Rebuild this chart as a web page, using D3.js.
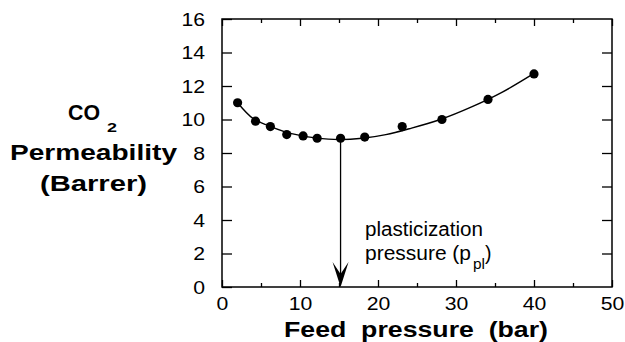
<!DOCTYPE html>
<html>
<head>
<meta charset="utf-8">
<script src="https://cdn.jsdelivr.net/npm/d3@7"></script>
<style>
  html, body { margin: 0; padding: 0; background: #fff; }
  svg { display: block; }
  text { font-family: "Liberation Sans", Arial, Helvetica, sans-serif; fill: #000; }
</style>
</head>
<body>
<svg id="chart" width="625" height="342"></svg>
<script>
// ---- data ----
const pressure = [2, 4.3, 6.2, 8.3, 10.4, 12.2, 15.2, 18.3, 23.1, 28.2, 34.1, 40.0];
const permeability = [11.0, 9.9, 9.58, 9.1, 9.02, 8.88, 8.88, 8.95, 9.58, 10.0, 11.2, 12.72];
const fitPressure = [2, 4, 6, 8, 10, 12, 15, 18, 21, 24, 28, 32, 36, 40];
const fitPermeability = [11.0, 10.05, 9.62, 9.28, 9.05, 8.9, 8.8, 8.88, 9.1, 9.45, 10.0, 10.75, 11.65, 12.75];
const xTicks = [0, 10, 20, 30, 40, 50];
const xMinorTicks = [5, 15, 25, 35, 45];
const yTicks = [0, 2, 4, 6, 8, 10, 12, 14, 16];
const plasticizationPressure = 15.2;

const svg = d3.select("#chart");
const L = 222, R = 612, T = 19, B = 287;
const x = d3.scaleLinear().domain([0, 50]).range([L, R]);
const y = d3.scaleLinear().domain([0, 16]).range([B, T]);

// frame
svg.append("rect").attr("x", L).attr("y", T).attr("width", R - L).attr("height", B - T)
  .attr("fill", "none").attr("stroke", "#000").attr("stroke-width", 1.5);

function styleAxis(g) {
  g.select(".domain").remove();
  g.selectAll("line").attr("stroke", "#000").attr("stroke-width", 1.3);
}

// bottom axis (labels)
const gx = svg.append("g").attr("transform", `translate(0,${B})`)
  .call(d3.axisBottom(x).tickValues(xTicks).tickSize(-7).tickPadding(10).tickFormat(d3.format("d")));
styleAxis(gx);
gx.selectAll("text").attr("font-size", 18).attr("dy", "0.71em")
  .attr("textLength", d => String(d).length * 11.8).attr("lengthAdjust", "spacingAndGlyphs");
svg.append("g").attr("transform", `translate(0,${B})`)
  .call(d3.axisBottom(x).tickValues(xMinorTicks).tickSize(-4).tickFormat(""))
  .call(styleAxis);
// top axis
svg.append("g").attr("transform", `translate(0,${T})`)
  .call(d3.axisTop(x).tickValues(xTicks).tickSize(-7).tickFormat("")).call(styleAxis);
svg.append("g").attr("transform", `translate(0,${T})`)
  .call(d3.axisTop(x).tickValues(xMinorTicks).tickSize(-4).tickFormat("")).call(styleAxis);

// left axis
const gy = svg.append("g").attr("transform", `translate(${L},0)`)
  .call(d3.axisLeft(y).tickValues(yTicks).tickSize(-10).tickPadding(17).tickFormat(d3.format("d")));
styleAxis(gy);
gy.selectAll("text").attr("font-size", 18).attr("dy", "0.36em")
  .attr("textLength", d => String(d).length * 11.8).attr("lengthAdjust", "spacingAndGlyphs");
// right axis
svg.append("g").attr("transform", `translate(${R},0)`)
  .call(d3.axisRight(y).tickValues(yTicks.slice(1, -1)).tickSize(-10).tickFormat("")).call(styleAxis);

// fit curve
const fit = fitPressure.map((p, i) => [p, fitPermeability[i]]);
svg.append("path").datum(fit)
  .attr("d", d3.line().x(d => x(d[0])).y(d => y(d[1])).curve(d3.curveCatmullRom))
  .attr("fill", "none").attr("stroke", "#000").attr("stroke-width", 1.4);

// arrow
const ax = x(plasticizationPressure);
const iMin = pressure.indexOf(plasticizationPressure);
svg.append("line").attr("x1", ax).attr("x2", ax)
  .attr("y1", y(permeability[iMin])).attr("y2", B - 6)
  .attr("stroke", "#000").attr("stroke-width", 1.3);
svg.append("path")
  .attr("d", `M${ax},${B} L${ax - 8},${B - 25} L${ax},${B - 13} L${ax + 8},${B - 25} Z`)
  .attr("fill", "#000");

// points
svg.append("g").selectAll("circle").data(pressure).join("circle")
  .attr("cx", d => x(d)).attr("cy", (d, i) => y(permeability[i])).attr("r", 4.6)
  .attr("fill", "#000");

// annotation
svg.append("text").attr("x", 365).attr("y", 236).attr("font-size", 19.5)
  .attr("textLength", 118).attr("lengthAdjust", "spacingAndGlyphs").text("plasticization");
svg.append("text").attr("x", 365).attr("y", 260).attr("font-size", 19.5)
  .attr("textLength", 106).attr("lengthAdjust", "spacingAndGlyphs").text("pressure (p");
svg.append("text").attr("x", 473).attr("y", 269).attr("font-size", 14)
  .attr("textLength", 12).attr("lengthAdjust", "spacingAndGlyphs").text("pl");
svg.append("text").attr("x", 485).attr("y", 260).attr("font-size", 19.5).text(")");

// axis titles
svg.append("text").attr("x", 284).attr("y", 337).attr("font-size", 22).attr("font-weight", "bold")
  .style("white-space", "pre").attr("textLength", 264).attr("lengthAdjust", "spacingAndGlyphs")
  .text("Feed  pressure  (bar)");

svg.append("text").attr("x", 68).attr("y", 120).attr("font-size", 22).attr("font-weight", "bold")
  .attr("textLength", 32).attr("lengthAdjust", "spacingAndGlyphs").text("CO");
svg.append("text").attr("x", 107).attr("y", 132).attr("font-size", 13).attr("font-weight", "bold")
  .attr("textLength", 10).attr("lengthAdjust", "spacingAndGlyphs").text("2");
svg.append("text").attr("x", 10).attr("y", 160).attr("font-size", 22).attr("font-weight", "bold")
  .attr("textLength", 167).attr("lengthAdjust", "spacingAndGlyphs").text("Permeability");
svg.append("text").attr("x", 40).attr("y", 191).attr("font-size", 22).attr("font-weight", "bold")
  .attr("textLength", 107).attr("lengthAdjust", "spacingAndGlyphs").text("(Barrer)");
</script>
</body>
</html>
